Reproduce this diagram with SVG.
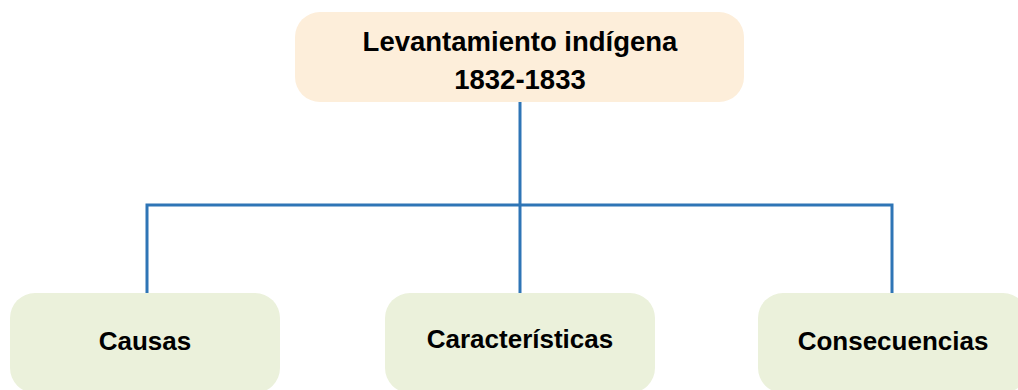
<svg xmlns="http://www.w3.org/2000/svg" width="1018" height="390" viewBox="0 0 1018 390">
<style>
.top{fill:#fdeeda;}
.sub{fill:#ebf1db;}
.t{font-family:"Liberation Sans",Arial,sans-serif;font-weight:bold;font-size:26px;fill:#000;text-anchor:middle;}
.tt{font-size:27.5px;}
.c{stroke:#2e75b6;stroke-width:3;fill:none;}
</style>
<rect width="1018" height="390" fill="#fff"/>
<g id="connectors">
<path class="c" d="M520 101 V293"/>
<path class="c" d="M147 293 V205 H892 V293"/>
</g>
<g id="root">
<rect class="top" x="295" y="12" width="449" height="90" rx="25"/>
<text class="t tt" x="520" y="51">Levantamiento indígena</text>
<text class="t tt" x="520" y="89">1832-1833</text>
</g>
<g id="causas">
<rect class="sub" x="10" y="293" width="270" height="100" rx="25"/>
<text class="t" x="145" y="350">Causas</text>
</g>
<g id="caracteristicas">
<rect class="sub" x="385" y="293" width="270" height="100" rx="25"/>
<text class="t" x="520" y="348">Características</text>
</g>
<g id="consecuencias">
<rect class="sub" x="758" y="293" width="270" height="100" rx="25"/>
<text class="t" x="893" y="350">Consecuencias</text>
</g>
</svg>
